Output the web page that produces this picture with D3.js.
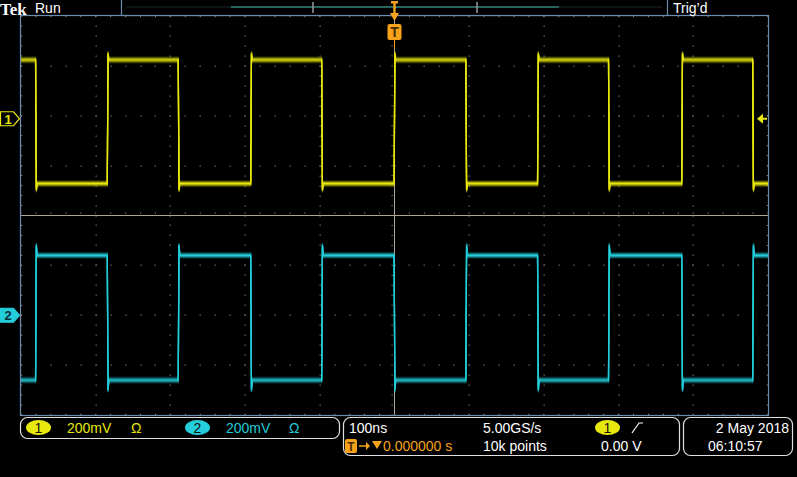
<!DOCTYPE html>
<html><head><meta charset="utf-8">
<script src="https://cdn.jsdelivr.net/npm/d3@7"></script>
<style>
html,body{margin:0;padding:0;background:#000;}
svg{display:block;}
text{font-family:"Liberation Sans",Arial,sans-serif;}
</style></head>
<body>
<script>
// ---- data ----
const timeDomainNs = [-500, 500];          // 10 div x 100 ns/div
const voltDivDomain = [-4, 4];             // 8 vertical divisions
const voltsPerDiv = 200;                   // mV/div both channels
const ch1Offset = 1.94;                    // ch1 ground marker position (div)
const ch2Offset = -2.0;                    // ch2 ground marker position (div)
const ch1Edges = [-480, -384, -289, -192, -97, 0, 96, 192, 287, 385, 480]; // ns
const ch2Edges = [-480, -384, -289, -192, -97, 0, 96, 192, 287, 385, 480]; // ns
const ch1StartHigh = true;
const ch2StartHigh = false;
const ch1Levels = {high: 236, low: -260, overshoot: 25};  // mV
const ch2Levels = {high: 240, low: -260, overshoot: 40};  // mV
const statusTexts = {
  scale1: "200mV", scale2: "200mV", timebase: "100ns", rate: "5.00GS/s",
  points: "10k points", trigLevel: "0.00 V", trigPos: "0.000000 s",
  date: "2 May 2018", time: "06:10:57"
};

const W = 797, H = 477;
const L = 21, R = 768, T = 16, B = 415;
const YEL = "#e8e810", CYA = "#24cdda", ORG = "#f7a21b", FRAME = "#6d8db0", GRID = "#6a6a6a", AXIS = "#b0a494";

const svg = d3.select("body").append("svg").attr("width", W).attr("height", H);
svg.append("rect").attr("width", W).attr("height", H).attr("fill", "#000");

const x = d3.scaleLinear().domain(timeDomainNs).range([L, R]);
const yDiv = d3.scaleLinear().domain(voltDivDomain).range([B, T]);
const xDiv = d3.scaleLinear().domain([-5, 5]).range([L, R]);

// ---- graticule ----
const g = svg.append("g");
const dots = [];
for (let i = -4; i <= 4; i++) {           // vertical dotted lines
  if (i === 0) continue;
  for (let j = -4 * 5; j <= 4 * 5; j++) dots.push([xDiv(i), yDiv(j / 5)]);
}
for (let j = -3; j <= 3; j++) {           // horizontal dotted lines
  if (j === 0) continue;
  for (let i = -5 * 5; i <= 5 * 5; i++) dots.push([xDiv(i / 5), yDiv(j)]);
}
g.selectAll("rect.dot").data(dots).join("rect")
  .attr("x", d => Math.round(d[0]) - 0.5).attr("y", d => Math.round(d[1]) - 0.5)
  .attr("width", 1.3).attr("height", 1.3).attr("fill", GRID);

// edge ticks
const ticks = [];
for (let i = -25; i <= 25; i++) {
  ticks.push([xDiv(i / 5), T, xDiv(i / 5), T + 2.5]);
  ticks.push([xDiv(i / 5), B, xDiv(i / 5), B - 2.5]);
  ticks.push([xDiv(i / 5), yDiv(0) - 3, xDiv(i / 5), yDiv(0) + 3]);
}
for (let j = -20; j <= 20; j++) {
  ticks.push([L, yDiv(j / 5), L + 2.5, yDiv(j / 5)]);
  ticks.push([R, yDiv(j / 5), R - 2.5, yDiv(j / 5)]);
  ticks.push([xDiv(0) - 3, yDiv(j / 5), xDiv(0) + 3, yDiv(j / 5)]);
}
g.selectAll("line.tk").data(ticks).join("line")
  .attr("x1", d => d[0]).attr("y1", d => d[1]).attr("x2", d => d[2]).attr("y2", d => d[3])
  .attr("stroke", "#8a8a8a").attr("stroke-width", 1).attr("stroke-dasharray", "1.2,20");
// center cross
g.append("line").attr("x1", L).attr("x2", R).attr("y1", yDiv(0)).attr("y2", yDiv(0))
  .attr("stroke", AXIS).attr("stroke-width", 1);
g.append("line").attr("x1", xDiv(0)).attr("x2", xDiv(0)).attr("y1", T).attr("y2", B)
  .attr("stroke", AXIS).attr("stroke-width", 1);

// ---- traces ----
svg.append("clipPath").attr("id", "clip").append("rect")
  .attr("x", L).attr("y", T).attr("width", R - L).attr("height", B - T);

function buildPoints(edges, startHigh, lv) {
  const pts = [];
  let high = startHigh;
  pts.push([timeDomainNs[0] - 10, high ? lv.high : lv.low]);
  edges.forEach(t => {
    const from = high ? lv.high : lv.low;
    high = !high;
    const to = high ? lv.high : lv.low;
    const os = high ? lv.overshoot : -lv.overshoot;
    pts.push([t - 0.5, from]);
    pts.push([t + 0.5, to + os]);
    pts.push([t + 1.6, to]);
  });
  pts.push([timeDomainNs[1] + 10, high ? lv.high : lv.low]);
  return pts;
}
function drawTrace(pts, offset, color) {
  const line = d3.line().x(d => x(d[0])).y(d => yDiv(offset + d[1] / voltsPerDiv));
  const tg = svg.append("g").attr("clip-path", "url(#clip)");
  const layers = [[-3, 0.15], [-2, 0.4], [-1, 0.75], [0, 1], [1, 0.75], [2, 0.4], [3, 0.15]];
  layers.forEach(([dy, op]) => {
    tg.append("path").attr("d", line(pts)).attr("transform", `translate(0,${dy})`)
      .attr("fill", "none").attr("stroke", color).attr("stroke-width", 1.3)
      .attr("stroke-opacity", op);
  });
}
drawTrace(buildPoints(ch1Edges, ch1StartHigh, ch1Levels), ch1Offset, YEL);
drawTrace(buildPoints(ch2Edges, ch2StartHigh, ch2Levels), ch2Offset, CYA);

// frame
svg.append("rect").attr("x", L - 0.5).attr("y", T - 0.5).attr("width", R - L + 1).attr("height", B - T + 1)
  .attr("fill", "none").attr("stroke", FRAME).attr("stroke-width", 1.2);

// channel markers
function chMarker(yc, label, color, filled) {
  const gm = svg.append("g");
  gm.append("path").attr("d", `M0.5,${yc - 7}H13.5L19.5,${yc}L13.5,${yc + 7}H0.5Z`)
    .attr("fill", filled ? color : "#000").attr("stroke", color).attr("stroke-width", 1.2);
  gm.append("text").attr("x", 8).attr("y", yc + 5).attr("text-anchor", "middle")
    .attr("font-size", 13).attr("font-weight", "bold").attr("fill", filled ? "#06303a" : color).text(label);
}
chMarker(yDiv(ch1Offset), "1", YEL, false);
chMarker(yDiv(ch2Offset), "2", CYA, true);
// trigger level arrow (right)
const ty = yDiv(ch1Offset);
svg.append("path").attr("d", `M757,${ty}L763,${ty - 5}V${ty + 5}Z M763,${ty - 1}H767V${ty + 1}H763Z`).attr("fill", YEL);

// ---- top bar ----
svg.append("text").attr("x", 0).attr("y", 15).attr("font-weight", "bold").attr("font-size", 17)
  .attr("fill", "#fff").style("font-family", "'Liberation Serif',serif").text("Tek");
svg.append("text").attr("x", 35).attr("y", 13).attr("font-size", 14).attr("fill", "#fff").text("Run");
svg.append("text").attr("x", 673).attr("y", 13).attr("font-size", 14).attr("fill", "#fff").text("Trig’d");
svg.append("rect").attr("x", 121.5).attr("y", -1).attr("width", 546).attr("height", 16.5)
  .attr("fill", "#000").attr("stroke", FRAME).attr("stroke-width", 1.2);
svg.append("line").attr("x1", 126).attr("x2", 662).attr("y1", 7).attr("y2", 7).attr("stroke", "#1a2a30").attr("stroke-width", 1);
svg.append("line").attr("x1", 231).attr("x2", 559).attr("y1", 7).attr("y2", 7).attr("stroke", "#3fb59c").attr("stroke-width", 1.2);
[313, 477].forEach(bx => {
  svg.append("path").attr("d", `M${bx},2V13`).attr("stroke", "#9a9a9a").attr("stroke-width", 1.5).attr("fill", "none");
});
// trigger position marker
const tx = x(0);
svg.append("path").attr("d", `M${tx - 3.5},1H${tx + 3.5}V3.5H${tx + 1.2}V13H${tx - 1.2}V3.5H${tx - 3.5}Z`).attr("fill", ORG);
svg.append("path").attr("d", `M${tx - 4.5},13H${tx + 4.5}L${tx},21Z`).attr("fill", ORG);
svg.append("rect").attr("x", tx - 7).attr("y", 24).attr("width", 14).attr("height", 16).attr("rx", 2).attr("fill", ORG);
svg.append("text").attr("x", tx).attr("y", 37).attr("text-anchor", "middle").attr("font-size", 14)
  .attr("font-weight", "bold").attr("fill", "#4a2a00").text("T");
svg.append("line").attr("x1", tx).attr("x2", tx).attr("y1", 40).attr("y2", 48).attr("stroke", ORG).attr("stroke-width", 1);

// ---- status bar ----
function box(x0, y0, x1, y1) {
  svg.append("rect").attr("x", x0).attr("y", y0).attr("width", x1 - x0).attr("height", y1 - y0)
    .attr("rx", 7).attr("fill", "#000").attr("stroke", "#e0e0e0").attr("stroke-width", 1.2);
}
box(20.5, 417.5, 339.5, 438.5);
box(343.5, 417.5, 679.5, 455.5);
box(683.5, 417.5, 792.5, 455.5);
function pill(cx, label, color) {
  svg.append("ellipse").attr("cx", cx).attr("cy", 427.5).attr("rx", 12.5).attr("ry", 7.5).attr("fill", color);
  svg.append("text").attr("x", cx).attr("y", 433).attr("text-anchor", "middle").attr("font-size", 14)
    .attr("fill", "#111").text(label);
}
const t1 = (xx, yy, s, c, anchor) => svg.append("text").attr("x", xx).attr("y", yy).attr("font-size", 14)
  .attr("fill", c).attr("text-anchor", anchor || "start").text(s);
pill(38.5, "1", YEL);
t1(67, 433, statusTexts.scale1, YEL);
t1(131, 433, "Ω", YEL);
pill(197.5, "2", CYA);
t1(226, 433, statusTexts.scale2, CYA);
t1(289, 433, "Ω", CYA);

t1(349, 433, statusTexts.timebase, "#fff");
t1(483, 433, statusTexts.rate, "#fff");
t1(483, 451, statusTexts.points, "#fff");
pill(607.5, "1", YEL);
svg.append("path").attr("d", "M632,433L639,423H643").attr("stroke", "#fff").attr("stroke-width", 1.2).attr("fill", "none");
t1(601, 451, statusTexts.trigLevel, "#fff");
// trigger position row
svg.append("rect").attr("x", 345).attr("y", 439).attr("width", 12).attr("height", 14).attr("rx", 2).attr("fill", ORG);
svg.append("text").attr("x", 351).attr("y", 451).attr("text-anchor", "middle").attr("font-size", 12)
  .attr("font-weight", "bold").attr("fill", "#4a2a00").text("T");
svg.append("path").attr("d", "M359,446H367").attr("stroke", ORG).attr("stroke-width", 1.5);
svg.append("path").attr("d", "M366,442L370,446L366,450Z").attr("fill", ORG);
svg.append("path").attr("d", "M372,441H382L377,449Z").attr("fill", ORG);
t1(383, 451, statusTexts.trigPos, ORG);

t1(789, 433, statusTexts.date, "#fff", "end");
t1(708, 451, statusTexts.time, "#fff");
</script>
</body></html>
